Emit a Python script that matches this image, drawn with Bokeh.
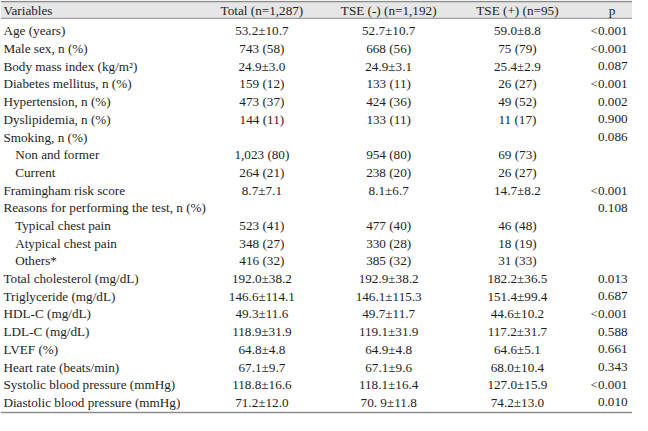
from bokeh.plotting import figure
from bokeh.models import Range1d, ColumnDataSource
from bokeh.core.properties import value
from bokeh.embed import file_html
from bokeh.resources import INLINE

headers = ["Variables", "Total (n=1,287)", "TSE (-) (n=1,192)", "TSE (+) (n=95)", "p"]

variables = [
    "Age (years)", "Male sex, n (%)", "Body mass index (kg/m\u00b2)", "Diabetes mellitus, n (%)",
    "Hypertension, n (%)", "Dyslipidemia, n (%)", "Smoking, n (%)", "Non and former", "Current",
    "Framingham risk score", "Reasons for performing the test, n (%)", "Typical chest pain",
    "Atypical chest pain", "Others*", "Total cholesterol (mg/dL)", "Triglyceride (mg/dL)",
    "HDL-C (mg/dL)", "LDL-C (mg/dL)", "LVEF (%)", "Heart rate (beats/min)",
    "Systolic blood pressure (mmHg)", "Diastolic blood pressure (mmHg)",
]
indented = [False, False, False, False, False, False, False, True, True, False, False, True,
            True, True, False, False, False, False, False, False, False, False]
total = [
    "53.2\u00b110.7", "743 (58)", "24.9\u00b13.0", "159 (12)", "473 (37)", "144 (11)", "",
    "1,023 (80)", "264 (21)", "8.7\u00b17.1", "", "523 (41)", "348 (27)", "416 (32)",
    "192.0\u00b138.2", "146.6\u00b1114.1", "49.3\u00b111.6", "118.9\u00b131.9", "64.8\u00b14.8",
    "67.1\u00b19.7", "118.8\u00b116.6", "71.2\u00b112.0",
]
tse_neg = [
    "52.7\u00b110.7", "668 (56)", "24.9\u00b13.1", "133 (11)", "424 (36)", "133 (11)", "",
    "954 (80)", "238 (20)", "8.1\u00b16.7", "", "477 (40)", "330 (28)", "385 (32)",
    "192.9\u00b138.2", "146.1\u00b1115.3", "49.7\u00b111.7", "119.1\u00b131.9", "64.9\u00b14.8",
    "67.1\u00b19.6", "118.1\u00b116.4", "70. 9\u00b111.8",
]
tse_pos = [
    "59.0\u00b18.8", "75 (79)", "25.4\u00b12.9", "26 (27)", "49 (52)", "11 (17)", "",
    "69 (73)", "26 (27)", "14.7\u00b18.2", "", "46 (48)", "18 (19)", "31 (33)",
    "182.2\u00b136.5", "151.4\u00b199.4", "44.6\u00b110.2", "117.2\u00b131.7", "64.6\u00b15.1",
    "68.0\u00b110.4", "127.0\u00b115.9", "74.2\u00b113.0",
]
p_values = [
    "<0.001", "<0.001", "0.087", "<0.001", "0.002", "0.900", "0.086", "", "", "<0.001",
    "0.108", "", "", "", "0.013", "0.687", "<0.001", "0.588", "0.661", "0.343", "<0.001",
    "0.010",
]

# layout (reference pixel space)
W, H = 648, 431
HEAD_Y, ROW1, STEP = 10.5, 31.5, 18.38
X_VAR, INDENT = 3, 12
X_TOTAL, X_NEG, X_POS, X_P_RIGHT, X_P_HEAD = 268, 398, 530, 643, 627
FONT = value("Liberation Serif")
SIZE = "13.2px"
INK = "#1e1e1e"

p = figure(width=632, height=415, output_backend="svg", toolbar_location=None,
           x_range=Range1d(0, W), y_range=Range1d(H, 0), min_border=0)
p.axis.visible = False
p.grid.visible = False
p.outline_line_color = None
p.background_fill_color = "white"

# header band and rules
p.quad(left=[0], right=[W], top=[1], bottom=[18.5], fill_color="#e6e6e6", line_color=None)
p.segment(x0=[0, 0, 0], x1=[W, W, W], y0=[1, 18.5, 428], y1=[1, 18.5, 428],
          line_color=["#8c8c8c", "#8c8c8c", "#8c8c8c"], line_width=[1.5, 1, 1.5])

n = len(variables)
ys = [ROW1 + STEP * i for i in range(n)]
xs_var = [X_VAR + (INDENT if ind else 0) for ind in indented]

src = ColumnDataSource(dict(y=ys, xv=xs_var, var=variables, tot=total, neg=tse_neg,
                            pos=tse_pos, pv=p_values))

common = dict(text_font=FONT, text_font_size=SIZE, text_color=INK, text_baseline="middle")

# header texts
p.text(x=[X_VAR], y=[HEAD_Y], text=[headers[0]], text_align="left", **common)
p.text(x=[X_TOTAL, X_NEG, X_POS, X_P_HEAD], y=[HEAD_Y] * 4, text=headers[1:],
       text_align="center", **common)

# body
p.text(x="xv", y="y", text="var", source=src, text_align="left", **common)
p.text(x=X_TOTAL, y="y", text="tot", source=src, text_align="center", **common)
p.text(x=X_NEG, y="y", text="neg", source=src, text_align="center", **common)
p.text(x=X_POS, y="y", text="pos", source=src, text_align="center", **common)
p.text(x=X_P_RIGHT, y="y", text="pv", source=src, text_align="right", **common)

open("out.html", "w").write(file_html(p, INLINE))
